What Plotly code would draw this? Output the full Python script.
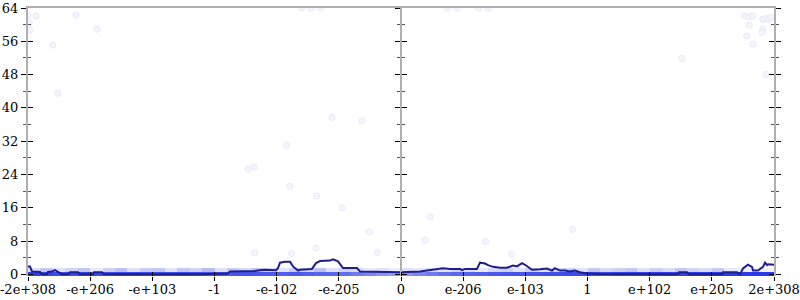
import plotly.graph_objects as go

# ---------------- data ----------------
tick_vals = [-6, -5, -4, -3, -2, -1, 0, 1, 2, 3, 4, 5, 6]
tick_text = ["-2e+308", "-e+206", "-e+103", "-1", "-e-102", "-e-205", "0",
             "e-206", "e-103", "1", "e+102", "e+205", "2e+308"]
y_ticks = [0, 8, 16, 24, 32, 40, 48, 56, 64]
y_minor = [4, 12, 20, 28, 36, 44, 52, 60]

line_x = [-6.0, -5.968, -5.936, -5.807, -5.775, -5.694, -5.678, -5.614, -5.565, -5.517,
          -5.453, -5.356, -5.324, -5.196, -5.163, -4.954, -4.938, -4.809, -4.777, -3.233,
          -2.992, -2.783, -2.751, -2.381, -2.348, -2.268, -2.188, -2.011, -1.979, -1.946,
          -1.866, -1.785, -1.737, -1.657, -1.625, -1.432, -1.367, -1.303, -1.142, -1.094,
          -1.013, -0.933, -0.708, -0.659, -0.338, -0.016,
          0.0, 0.306, 0.418, 0.676, 0.788, 0.949, 0.981, 1.029, 1.222, 1.271,
          1.351, 1.399, 1.480, 1.592, 1.705, 1.753, 1.802, 1.866, 1.946, 1.995,
          2.043, 2.107, 2.236, 2.348, 2.429, 2.477, 2.557, 2.638, 2.718, 2.799,
          2.879, 2.992, 3.201, 4.456, 4.472, 4.600, 4.632, 5.163, 5.179, 5.405,
          5.453, 5.501, 5.581, 5.646, 5.662, 5.742, 5.775, 5.823, 5.855, 5.887,
          5.903, 5.968, 6.0]
line_y = [1.9, 1.9, 0.7, 0.55, 0.0, 0.0, 0.6, 0.7, 1.0, 0.6,
          0.0, 0.0, 0.5, 0.5, 0.0, 0.0, 0.5, 0.5, 0.0, 0.0,
          0.2, 0.2, 0.7, 0.7, 0.8, 1.0, 1.1, 1.0, 1.5, 2.8,
          3.0, 3.0, 1.9, 0.9, 1.1, 1.3, 2.7, 3.2, 3.3, 3.6,
          3.1, 1.5, 1.5, 0.7, 0.6, 0.4,
          0.5, 0.7, 0.9, 1.45, 1.3, 1.3, 1.0, 1.3, 1.3, 2.8,
          2.6, 2.2, 1.8, 1.6, 1.6, 1.8, 2.1, 1.9, 2.7, 2.3,
          1.7, 1.1, 1.2, 1.4, 0.9, 1.5, 0.9, 0.9, 0.7, 0.9,
          0.5, 0.2, 0.1, 0.0, 0.5, 0.5, 0.0, 0.0, 0.5, 0.5,
          0.0, 1.4, 2.3, 1.8, 0.9, 0.9, 1.3, 1.8, 2.8, 2.2,
          2.4, 2.3, 2.3]

heat_x = [-5.9, -5.7, -5.5, -5.3, -5.1, -4.9, -4.7, -4.5, -4.3, -4.1,
          -3.9, -3.7, -3.5, -3.3, -3.1, -2.9, -2.7, -2.5, -2.3, -2.1,
          -1.9, -1.7, -1.5, -1.3, -1.1, -0.9, -0.7, -0.5, -0.3, -0.1,
          0.1, 0.3, 0.5, 0.7, 0.9, 1.1, 1.3, 1.5, 1.7, 1.9,
          2.1, 2.3, 2.5, 2.7, 2.9, 3.1, 3.3, 3.5, 3.7, 3.9,
          4.1, 4.3, 4.5, 4.7, 4.9, 5.1, 5.3, 5.5, 5.7, 5.9]
heat_y = [0, 1]
heat_row0 = [0.95, 0.92, 0.9, 0.9, 0.92, 0.9, 0.88, 0.9, 0.9, 0.88,
             0.9, 0.88, 0.9, 0.88, 0.86, 0.88, 0.85, 0.86, 0.85, 0.84,
             0.82, 0.84, 0.82, 0.8, 0.78, 0.75, 0.7, 0.65, 0.6, 0.55,
             0.6, 0.65, 0.7, 0.75, 0.78, 0.8, 0.82, 0.84, 0.85, 0.86,
             0.86, 0.88, 0.88, 0.9, 0.9, 0.9, 0.9, 0.92, 0.92, 0.92,
             0.94, 0.94, 0.94, 0.95, 0.95, 0.95, 0.96, 0.96, 0.97, 0.97]
heat_row1 = [0.22, 0.35, 0.18, 0.3, 0.36, 0.15, 0.3, 0.38, 0.2, 0.33,
             0.36, 0.18, 0.35, 0.28, 0.4, 0.2, 0.35, 0.25, 0.38, 0.3,
             0.18, 0.32, 0.26, 0.38, 0.2, 0.3, 0.22, 0.15, 0.2, 0.12,
             0.2, 0.15, 0.26, 0.18, 0.28, 0.22, 0.15, 0.25, 0.3, 0.18,
             0.3, 0.2, 0.28, 0.32, 0.18, 0.35, 0.25, 0.3, 0.36, 0.2,
             0.32, 0.22, 0.35, 0.28, 0.22, 0.34, 0.15, 0.12, 0.1, 0.08]

dots_x = [-6.0, -5.87, -5.23, -5.98, -5.97, -4.89, -5.6, -5.52,
          -1.11, -0.63, -1.84, -2.46, -2.36, -1.79, -1.36,
          -0.95, -0.51, -2.35, -1.76, -1.37, -0.38,
          0.47, 0.39, 1.36, 1.78, 2.76,
          5.53, 5.59, 5.65, 5.82, 5.87, 5.92, 5.95, 5.6, 5.82, 5.81, 5.56, 5.66, 4.52, 5.87,
          -1.6, -1.45, -1.3, 0.75, 0.9, 1.25, 1.4]
dots_y = [62.1, 62.1, 62.3, 60.4, 58.7, 58.9, 55.1, 43.5,
          37.7, 36.9, 31.0, 25.3, 25.8, 21.2, 18.8,
          16.0, 10.2, 5.1, 5.0, 6.3, 5.2,
          13.8, 8.2, 7.9, 4.8, 10.8,
          62.1, 61.9, 62.1, 61.3, 61.5, 61.3, 61.8, 59.9, 58.9, 58.1, 57.3, 55.3, 51.9, 48.1,
          64.0, 64.0, 64.0, 64.0, 64.0, 64.0, 64.0]

# ---------------- figure ----------------
FONT = dict(family="DejaVu Serif", size=13, color="#000000")
AXIS_GREY = "#b0b0b0"

fig = go.Figure()

fig.add_trace(go.Heatmap(
    x=heat_x, y=heat_y, z=[heat_row0, heat_row1],
    colorscale=[[0.0, "#ffffff"], [0.3, "#cdd0f7"], [0.6, "#8a92f0"], [1.0, "#2233e6"]],
    zmin=0, zmax=1, showscale=False, hoverinfo="skip"))

fig.add_trace(go.Scatter(
    x=dots_x, y=dots_y, mode="markers", showlegend=False, hoverinfo="skip",
    marker=dict(size=6, color="rgba(245,245,253,1)",
                line=dict(color="rgba(232,232,249,1)", width=1))))

fig.add_trace(go.Scatter(
    x=line_x, y=line_y, mode="lines", showlegend=False, hoverinfo="skip",
    line=dict(color="#1e1e8c", width=2)))

# dummy traces so overlay axes are drawn
for xa, ya in [("x2", "y"), ("x3", "y"), ("x", "y2"), ("x", "y3"),
               ("x", "y4"), ("x", "y5"), ("x", "y6")]:
    fig.add_trace(go.Scatter(x=[None], y=[None], xaxis=xa, yaxis=ya,
                             showlegend=False, hoverinfo="skip"))

xr = [-6, 6]
yr = [-0.4, 64]

common_x = dict(range=xr, showgrid=False, zeroline=False, fixedrange=True, automargin=False)
common_y = dict(range=yr, showgrid=False, zeroline=False, fixedrange=True, automargin=False,
                tickvals=y_ticks, tickcolor="#000000", ticklen=5, tickwidth=1)


def minor(ticks):
    return dict(tickvals=y_minor, ticks=ticks, ticklen=3, tickcolor="#555555", tickwidth=1)


fig.update_layout(
    width=800, height=300,
    margin=dict(l=28, r=26, t=8, b=24),
    paper_bgcolor="#ffffff", plot_bgcolor="#ffffff",
    font=FONT,
    xaxis=dict(**common_x, tickvals=tick_vals, ticktext=tick_text, ticks="outside",
               ticklen=4, tickcolor="#000000", showline=False, tickfont=FONT,
               ticklabeloverflow="allow", ticklabelstandoff=-3),
    xaxis2=dict(**common_x, overlaying="x", side="bottom", tickvals=tick_vals,
                ticks="inside", ticklen=4, tickcolor="#000000", showticklabels=False,
                showline=False),
    xaxis3=dict(**common_x, overlaying="x", side="top", ticks="", showticklabels=False,
                showline=True, linecolor=AXIS_GREY, linewidth=2),
    yaxis=dict(**common_y, ticks="outside", showline=True, linecolor=AXIS_GREY, linewidth=2,
               minor=minor("outside"), tickfont=FONT, side="left",
               ticklabeloverflow="allow"),
    yaxis2=dict(**common_y, overlaying="y", side="left", anchor="x", ticks="inside",
                showticklabels=False, minor=minor("inside")),
    yaxis3=dict(**common_y, overlaying="y", side="left", anchor="free", position=0.5,
                ticks="outside", showticklabels=False, showline=True,
                linecolor=AXIS_GREY, linewidth=2, minor=minor("outside")),
    yaxis4=dict(**common_y, overlaying="y", side="left", anchor="free", position=0.5,
                ticks="inside", showticklabels=False, minor=minor("inside")),
    yaxis5=dict(**common_y, overlaying="y", side="right", anchor="x", ticks="outside",
                showticklabels=False, showline=True, linecolor=AXIS_GREY, linewidth=2,
                minor=minor("outside")),
    yaxis6=dict(**common_y, overlaying="y", side="right", anchor="x", ticks="inside",
                showticklabels=False, minor=minor("inside")),
)

fig.write_html("out.html")
